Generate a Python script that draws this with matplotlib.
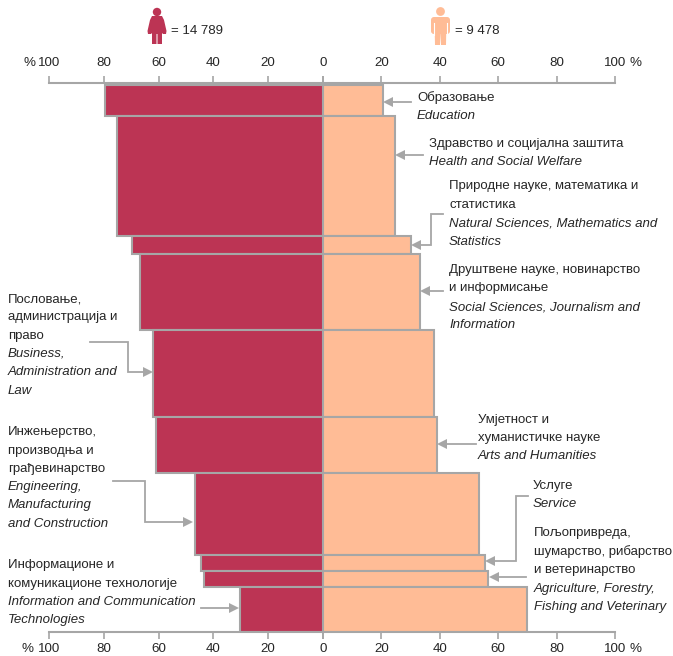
import numpy as np
import matplotlib
matplotlib.use("Agg")
import matplotlib.pyplot as plt
from matplotlib.patches import Polygon, Circle, FancyBboxPatch

plt.rcParams['font.family'] = ['Liberation Sans', 'DejaVu Sans']

# share of women / men per field, %, and number of people per field (bar height)
female = [79.6, 75.2, 69.7, 66.8, 62.0, 61.0, 46.7, 44.5, 43.4, 30.3]
male = [20.4, 24.8, 30.3, 33.2, 38.0, 39.0, 53.3, 55.5, 56.6, 69.7]
counts = [1375, 5323, 800, 3371, 3859, 2484, 3637, 710, 710, 1998]
ticks = [0, 20, 40, 60, 80, 100]
total_f = "= 14 789"
total_m = "= 9 478"

RED = "#bc3454"
PEACH = "#ffbc96"
GREY = "#a6a6a6"
DARK = "#262626"

W, H = 673, 656
fig = plt.figure(figsize=(W / 100, H / 100), dpi=100)

TOP, BOTTOM, ZERO = 83, 632, 323
ax_l = fig.add_axes([49 / W, (H - BOTTOM) / H, (ZERO - 49) / W, (BOTTOM - TOP) / H])
ax_r = fig.add_axes([ZERO / W, (H - BOTTOM) / H, (615 - ZERO) / W, (BOTTOM - TOP) / H])

counts = np.array(counts)
edges = np.concatenate(([0], np.cumsum(counts)[:-1]))
per_px = counts.sum() / 547
for ax, vals, col in [(ax_l, female, RED), (ax_r, male, PEACH)]:
    ax.barh(edges, vals, height=counts, align='edge', color=col, edgecolor=GREY, linewidth=1.5)
    ax.set_ylim(counts.sum(), -2 * per_px)
    ax.set_xlim(0, 100)
    ax.set_yticks([])
    ax.set_xticks(ticks)
    ax.set_xticklabels([])
    ax.tick_params(axis='x', which='both', top=True, bottom=True, color=GREY, width=1.2, length=5)
    for s in ['left', 'right']:
        ax.spines[s].set_visible(False)
    for s in ['top', 'bottom']:
        ax.spines[s].set_color(GREY)
        ax.spines[s].set_linewidth(1.5)
    ax.patch.set_alpha(0)
ax_l.invert_xaxis()

# overlay in pixel coordinates for texts, leaders and icons
ov = fig.add_axes([0, 0, 1, 1])
ov.set_xlim(0, W)
ov.set_ylim(H, 0)
ov.axis('off')


def txt(x, y, s, style='normal', size=9.5, ha='left'):
    ov.text(x, y, s, fontsize=size, style=style, ha=ha, va='center', color=DARK)


for ax, sign, scale in [(ax_l, -1, 2.74), (ax_r, 1, 2.92)]:
    for t in ticks:
        if t == 0 and sign == 1:
            continue
        for y in (63, 649):
            txt(ZERO + sign * t * scale, y, str(t), size=9.6, ha='center')
txt(35, 63, "%", size=9.6, ha='right')
txt(33, 649, "%", size=9.6, ha='right')
txt(630, 63, "%", size=9.6)
txt(630, 649, "%", size=9.6)

labels = [
    (417, [(98, "Образовање", 'normal'), (116, "Education", 'italic')]),
    (429, [(144, "Здравство и социјална заштита", 'normal'), (162, "Health and Social Welfare", 'italic')]),
    (449, [(186, "Природне науке, математика и", 'normal'), (205, "статистика", 'normal'),
           (224, "Natural Sciences, Mathematics and", 'italic'), (242, "Statistics", 'italic')]),
    (449, [(270, "Друштвене науке, новинарство", 'normal'), (288, "и информисање", 'normal'),
           (307, "Social Sciences, Journalism and", 'italic'), (325, "Information", 'italic')]),
    (8, [(300, "Пословање,", 'normal'), (317, "администрација и", 'normal'), (336, "право", 'normal'),
         (354, "Business,", 'italic'), (372, "Administration and", 'italic'), (391, "Law", 'italic')]),
    (478, [(420, "Умјетност и", 'normal'), (438, "хуманистичке науке", 'normal'), (456, "Arts and Humanities", 'italic')]),
    (8, [(432, "Инжењерство,", 'normal'), (451, "производња и", 'normal'), (469, "грађевинарство", 'normal'),
         (487, "Engineering,", 'italic'), (505, "Manufacturing", 'italic'), (524, "and Construction", 'italic')]),
    (533, [(486, "Услуге", 'normal'), (504, "Service", 'italic')]),
    (534, [(533, "Пољопривреда,", 'normal'), (552, "шумарство, рибарство", 'normal'), (570, "и ветеринарство", 'normal'),
           (589, "Agriculture, Forestry,", 'italic'), (607, "Fishing and Veterinary", 'italic')]),
    (8, [(565, "Информационе и", 'normal'), (584, "комуникационе технологије", 'normal'),
         (602, "Information and Communication", 'italic'), (620, "Technologies", 'italic')]),
]
for x, lines in labels:
    for y, s, st in lines:
        txt(x, y, s, style=st)

leaders = [
    [(411, 102), (383, 102)],
    [(423, 155), (395, 155)],
    [(443, 214), (431, 214), (431, 245), (411, 245)],
    [(443, 291), (420, 291)],
    [(90, 342), (128, 342), (128, 372), (153, 372)],
    [(113, 481), (145, 481), (145, 522), (193, 522)],
    [(201, 608), (239, 608)],
    [(476, 444), (437, 444)],
    [(528, 496), (516, 496), (516, 561), (485, 561)],
    [(526, 577), (489, 577)],
]
for pts in leaders:
    xs = [p[0] for p in pts]
    ys = [p[1] for p in pts]
    (x0, y0), (x1, y1) = pts[-2], pts[-1]
    d = 1 if x1 > x0 else -1
    ov.plot(xs[:-1] + [x1 - d * 8], ys, color=GREY, lw=1.3, solid_joinstyle='miter')
    ov.add_patch(Polygon([(x1, y1), (x1 - d * 10, y1 - 5), (x1 - d * 10, y1 + 5)], color=GREY, lw=0))


def woman(cx, col):
    ov.add_patch(Circle((cx, 12), 4.2, color=col, lw=0))
    ov.add_patch(Polygon([(cx - 5, 16), (cx + 5, 16), (cx + 7, 20), (cx + 9.5, 31), (cx + 9, 34), (cx + 6, 34),
                          (cx + 5, 33), (cx + 5, 44), (cx + 0.5, 44), (cx + 0.5, 34), (cx - 0.5, 34), (cx - 0.5, 44),
                          (cx - 5, 44), (cx - 5, 33), (cx - 6, 34), (cx - 9, 34), (cx - 9.5, 31), (cx - 7, 20)],
                         color=col, lw=0))


def man(cx, col):
    ov.add_patch(Circle((cx, 11.5), 4.4, color=col, lw=0))
    ov.add_patch(FancyBboxPatch((cx - 9.5, 17), 19, 17, boxstyle="round,pad=0,rounding_size=3", color=col, lw=0))
    ov.add_patch(Polygon([(cx - 6, 20), (cx + 6, 20), (cx + 5.5, 45), (cx + 0.5, 45), (cx, 32), (cx - 0.5, 45), (cx - 5.5, 45)],
                         color=col, lw=0))
    ov.plot([cx - 6.5, cx - 6.5], [23, 35], color='white', lw=0.8)
    ov.plot([cx + 6.5, cx + 6.5], [23, 35], color='white', lw=0.8)


woman(157, RED)
man(440.5, PEACH)
txt(171, 31, total_f)
txt(455, 31, total_m)

fig.savefig("out.png", dpi=100)
